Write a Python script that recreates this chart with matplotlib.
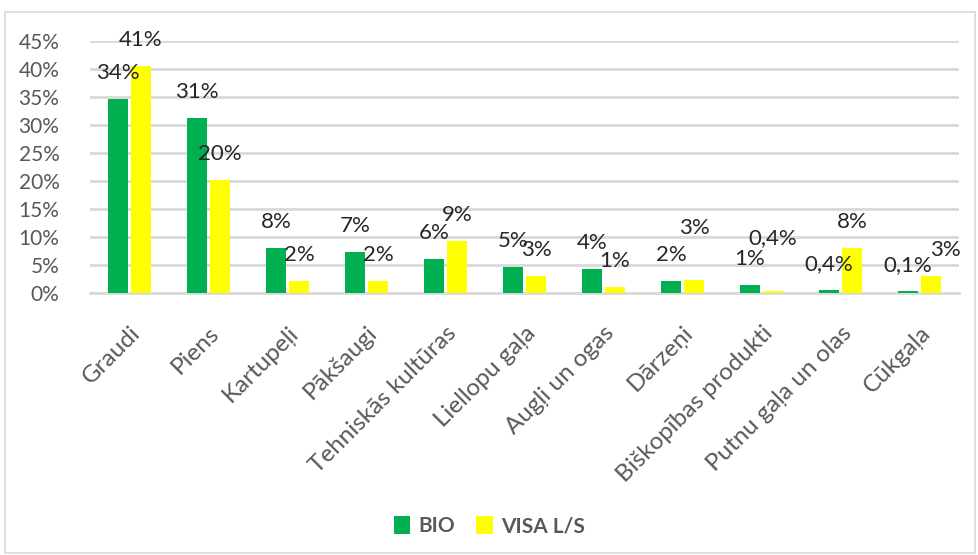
import numpy as np
import matplotlib
matplotlib.use('Agg')
import matplotlib.pyplot as plt
from matplotlib.patches import Rectangle

plt.rcParams['font.family'] = ['Lato', 'DejaVu Sans']

# data
categories = ['Graudi', 'Piens', 'Kartupeļi', 'Pākšaugi', 'Tehniskās kultūras',
              'Liellopu gaļa', 'Augļi un ogas', 'Dārzeņi', 'Biškopības produkti',
              'Putnu gaļa un olas', 'Cūkgaļa']
bio = [34.6, 31.3, 8.1, 7.4, 6.0, 4.6, 4.3, 2.1, 1.4, 0.5, 0.3]
visa = [40.5, 20.2, 2.2, 2.2, 9.2, 3.0, 1.0, 2.4, 0.3, 8.1, 3.0]
bio_labels = ['34%', '31%', '8%', '7%', '6%', '5%', '4%', '2%', '1%', '0,4%', '0,1%']
visa_labels = ['41%', '20%', '2%', '2%', '9%', '3%', '1%', '3%', '0,4%', '8%', '3%']
y_ticks = [0, 5, 10, 15, 20, 25, 30, 35, 40, 45]

green = '#00B050'
yellow = '#FFFF00'
grey_txt = '#595959'
grid_col = '#D9D9D9'

# hand-moved data labels in the original (pixel nudges)
visa_nudge = {7: (0, 26), 8: (0, 27), 10: (14, 0)}

fig = plt.figure(figsize=(9.79, 5.55), dpi=100)
fig.patches.append(Rectangle((5 / 979, 2 / 555), 970 / 979, 541 / 555,
                             transform=fig.transFigure, fill=False,
                             edgecolor='#D9D9D9', linewidth=1.2))
ax = fig.add_axes([90 / 979, 1 - 293 / 555, 869 / 979, 252 / 555])

x = np.arange(len(categories))
w = 0.25
off = 0.145
b1 = ax.bar(x - off, bio, w, color=green, label='BIO', zorder=3)
b2 = ax.bar(x + off, visa, w, color=yellow, label='VISA L/S', zorder=3)

for i, r in enumerate(b1):
    ax.annotate(bio_labels[i], (r.get_x() + r.get_width() / 2, r.get_height()),
                xytext=(0, 26), textcoords='offset pixels',
                ha='center', va='center', fontsize=16, color='#262626', zorder=4)
for i, r in enumerate(b2):
    dx, dy = visa_nudge.get(i, (0, 0))
    ax.annotate(visa_labels[i], (r.get_x() + r.get_width() / 2, r.get_height()),
                xytext=(dx, 26 + dy), textcoords='offset pixels',
                ha='center', va='center', fontsize=16, color='#262626', zorder=4)

ax.set_xlim(-0.5, len(categories) - 0.5)
ax.set_ylim(0, 45)
ax.set_yticks(y_ticks)
ax.set_yticklabels([f'{t}%' for t in y_ticks])
ax.set_xticks(x)
ax.set_xticklabels(categories, rotation=45, ha='right', rotation_mode='anchor')
ax.tick_params(axis='both', length=0, colors=grey_txt)
ax.tick_params(axis='y', pad=22, labelsize=15)
ax.tick_params(axis='x', pad=21, labelsize=17.5)
ax.grid(axis='y', color=grid_col, linewidth=2, zorder=0)
for s in ['top', 'right', 'left']:
    ax.spines[s].set_visible(False)
ax.spines['bottom'].set_color(grid_col)
ax.spines['bottom'].set_linewidth(2)

leg = fig.legend(handles=[b1, b2], loc='center', bbox_to_anchor=(0.5, 1 - 526 / 555),
                 ncol=2, frameon=False, handlelength=0.8, handleheight=1.0,
                 handletextpad=0.4, columnspacing=1.0,
                 prop={'size': 15, 'weight': 'bold'})
for t in leg.get_texts():
    t.set_color(grey_txt)

fig.savefig('out.png', dpi=100)
